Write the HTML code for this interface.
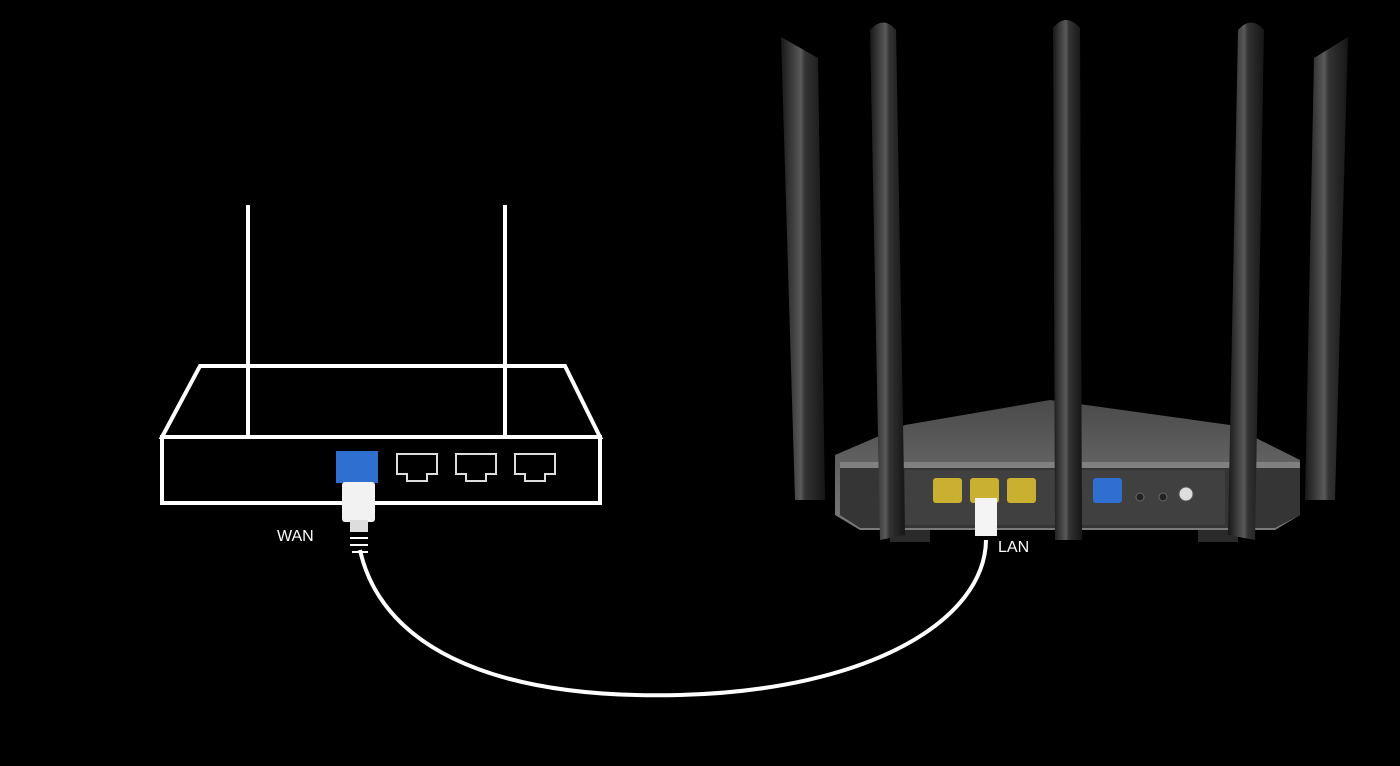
<!DOCTYPE html>
<html><head><style>html,body{margin:0;padding:0;background:#000;}svg{display:block}</style></head>
<body>
<svg width="1400" height="766" viewBox="0 0 1400 766" xmlns="http://www.w3.org/2000/svg">
<defs>
<linearGradient id="ant" x1="0" x2="1" y1="0" y2="0">
<stop offset="0" stop-color="#181818"/><stop offset="0.45" stop-color="#5a5a5a"/><stop offset="0.55" stop-color="#333"/><stop offset="1" stop-color="#161616"/>
</linearGradient>
<linearGradient id="top" x1="0" x2="0" y1="0" y2="1">
<stop offset="0" stop-color="#4a4a4a"/><stop offset="1" stop-color="#7a7a7a"/>
</linearGradient>
</defs>
<rect width="1400" height="766" fill="#000"/>
<g fill="none" stroke="#fff" stroke-width="4">
<line x1="248" y1="205" x2="248" y2="437"/>
<line x1="505" y1="205" x2="505" y2="437"/>
<polygon points="162,437 200,366 565,366 600,437"/>
<rect x="162" y="437" width="438" height="66"/>
</g>
<rect x="336" y="451" width="42" height="32" fill="#2f6fd0"/>
<g fill="none" stroke="#ddd" stroke-width="2">
<path d="M397 454h40v20h-10v7h-20v-7h-10z"/>
<path d="M456 454h40v20h-10v7h-20v-7h-10z"/>
<path d="M515 454h40v20h-10v7h-20v-7h-10z"/>
</g>
<rect x="342" y="482" width="33" height="40" rx="3" fill="#f2f2f2"/>
<rect x="350" y="520" width="18" height="12" fill="#ddd"/>
<g stroke="#fff" stroke-width="2"><line x1="350" y1="538" x2="368" y2="538"/><line x1="350" y1="545" x2="368" y2="545"/><line x1="352" y1="552" x2="368" y2="552"/></g>
<text x="277" y="541" fill="#fff" font-family="Liberation Sans, sans-serif" font-size="16">WAN</text>
<path d="M360 550 C380 640 480 700 680 695 C870 690 985 620 986 540" fill="none" stroke="#fff" stroke-width="4"/>
<polygon points="835,455 905,425 1050,400 1230,425 1300,460 1300,515 1275,530 860,530 835,515" fill="url(#top)"/>
<polygon points="840,465 1300,465 1300,515 1275,528 860,528 840,515" fill="#353535"/>
<rect x="905" y="470" width="320" height="55" fill="#404040"/>
<rect x="840" y="462" width="460" height="6" fill="#808080"/>
<g fill="#c9b030"><rect x="933" y="478" width="29" height="25" rx="3"/><rect x="970" y="478" width="29" height="25" rx="3"/><rect x="1007" y="478" width="29" height="25" rx="3"/></g>
<rect x="1093" y="478" width="29" height="25" rx="3" fill="#2f6fd0"/>
<circle cx="1140" cy="497" r="4" fill="#222" stroke="#666"/><circle cx="1163" cy="497" r="4" fill="#222" stroke="#666"/><circle cx="1186" cy="494" r="7" fill="#ddd" stroke="#555"/>
<rect x="975" y="498" width="22" height="38" fill="#f4f4f4"/>
<text x="998" y="552" fill="#fff" font-family="Liberation Sans, sans-serif" font-size="16">LAN</text>
<rect x="890" y="530" width="40" height="12" fill="#2a2a2a"/><rect x="1198" y="530" width="40" height="12" fill="#2a2a2a"/>
<polygon points="781,37 818,58 825,500 795,500" fill="url(#ant)"/>
<path d="M870 30 Q883 15 896 30 L905 535 L880 540 Z" fill="url(#ant)"/>
<path d="M1053 28 Q1066 12 1080 28 L1082 540 L1055 540 Z" fill="url(#ant)"/>
<path d="M1238 30 Q1251 15 1264 30 L1255 540 L1228 535 Z" fill="url(#ant)"/>
<polygon points="1348,37 1314,58 1305,500 1335,500" fill="url(#ant)"/>
</svg>
</body></html>
